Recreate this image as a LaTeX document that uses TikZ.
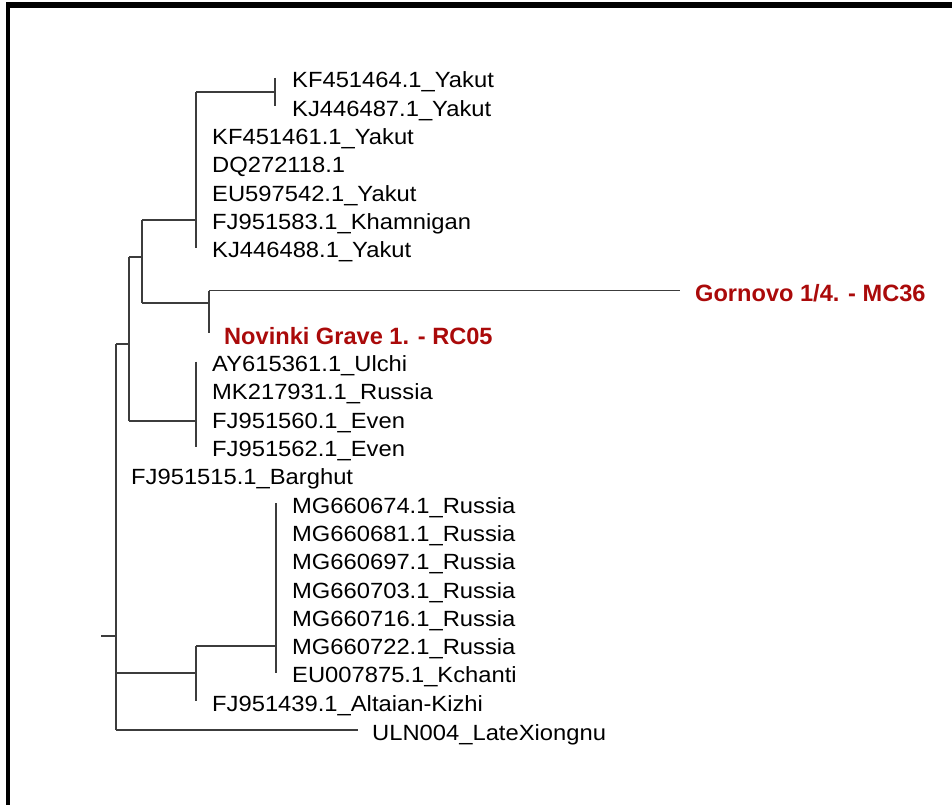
\documentclass[tikz,border=0pt]{standalone}
\usepackage{fontspec}
\setmainfont{Liberation Sans}
\newfontfamily\regfont{Liberation Sans}[FakeStretch=1.08]
\definecolor{hlred}{RGB}{170,10,10}
\definecolor{treegray}{RGB}{60,60,60}
\begin{document}
\begin{tikzpicture}[x=1pt,y=-1pt,
  branch/.style={draw=treegray,line width=1.8pt},
  lab/.style={anchor=base west,inner sep=0pt,font=\regfont\fontsize{22}{26}\selectfont},
  hl/.style={anchor=base west,inner sep=0pt,text=hlred,font=\fontsize{23.6}{28}\selectfont\bfseries}]
\useasboundingbox (0,0) rectangle (952,805);
% frame
\fill[black] (6,2) rectangle (952,8);
\fill[black] (6,2) rectangle (10,805);
% tree coordinates
\coordinate (rs) at (101,636);
\coordinate (rt) at (116,344);
\coordinate (rb) at (116,730);
\coordinate (n1t) at (129,257);
\coordinate (n1b) at (129,421);
\coordinate (n3t) at (142,220);
\coordinate (n3b) at (142,303);
\coordinate (cat) at (196,92);
\coordinate (cab) at (196,247.8);
\coordinate (cct) at (275,78);
\coordinate (ccb) at (275,106.3);
\coordinate (n4t) at (209,290.5);
\coordinate (n4b) at (209,333);
\coordinate (gt) at (680,290.5);
\coordinate (cbt) at (196,361.6);
\coordinate (cbb) at (196,446.5);
\coordinate (n2t) at (196,646);
\coordinate (n2b) at (196,701.2);
\coordinate (mgt) at (276,503.1);
\coordinate (mgb) at (276,672.9);
\coordinate (ut) at (358,730);
% branches
\draw[branch] (rs) -- (rs -| rt);
\draw[branch] (rt) -- (rb);
\draw[branch] (rt) -- (rt -| n1t);
\draw[branch] (n1t) -- (n1b);
\draw[branch] (n1t) -- (n1t -| n3t);
\draw[branch] (n3t) -- (n3b);
\draw[branch] (n3t) -- (n3t -| cat);
\draw[branch] (cat) -- (cab);
\draw[branch] (cat) -- (cat -| cct);
\draw[branch] (cct) -- (ccb);
\draw[branch] (n3b) -- (n3b -| n4t);
\draw[branch] (n4t) -- (n4b);
\draw[branch] (n4t) -- (gt);
\draw[branch] (n1b) -- (n1b -| cbt);
\draw[branch] (cbt) -- (cbb);
\draw[branch] (rt |- 0,672.9) -- (n2t |- 0,672.9);
\draw[branch] (n2t) -- (n2b);
\draw[branch] (n2t) -- (n2t -| mgt);
\draw[branch] (mgt) -- (mgb);
\draw[branch] (rb) -- (ut);
% labels
\node[lab] (l1) at (292,88) {KF451464.1\_Yakut};
\node[lab] (l2) at (292,116.3) {KJ446487.1\_Yakut};
\node[lab] (l3) at (212,144.6) {KF451461.1\_Yakut};
\node[lab] (l4) at (212,172.9) {DQ272118.1};
\node[lab] (l5) at (212,201.2) {EU597542.1\_Yakut};
\node[lab] (l6) at (212,229.5) {FJ951583.1\_Khamnigan};
\node[lab] (l7) at (212,257.8) {KJ446488.1\_Yakut};
\node[hl] (g1) at (695,301.5) {Gornovo 1/4. - MC36};
\node[hl] (g2) at (224,344) {Novinki Grave 1. - RC05};
\node[lab] (l8) at (212,371.6) {AY615361.1\_Ulchi};
\node[lab] (l9) at (212,399.9) {MK217931.1\_Russia};
\node[lab] (l10) at (212,428.2) {FJ951560.1\_Even};
\node[lab] (l11) at (212,456.5) {FJ951562.1\_Even};
\node[lab] (l12) at (131,484.8) {FJ951515.1\_Barghut};
\node[lab] (l13) at (292,513.1) {MG660674.1\_Russia};
\node[lab] (l14) at (292,541.4) {MG660681.1\_Russia};
\node[lab] (l15) at (292,569.7) {MG660697.1\_Russia};
\node[lab] (l16) at (292,598) {MG660703.1\_Russia};
\node[lab] (l17) at (292,626.3) {MG660716.1\_Russia};
\node[lab] (l18) at (292,654.6) {MG660722.1\_Russia};
\node[lab] (l19) at (292,682.9) {EU007875.1\_Kchanti};
\node[lab] (l20) at (212,711.2) {FJ951439.1\_Altaian-Kizhi};
\node[lab] (l21) at (372,740) {ULN004\_LateXiongnu};
\end{tikzpicture}
\end{document}
